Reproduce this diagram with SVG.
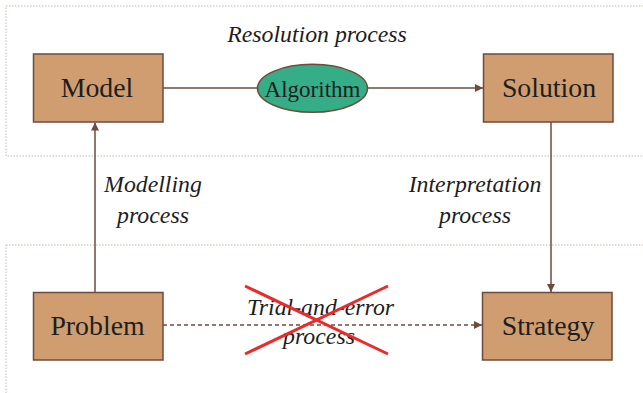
<svg xmlns="http://www.w3.org/2000/svg" width="643" height="393" viewBox="0 0 643 393">
<defs>
<style>
.region{fill:none;stroke:#c9b6ad;stroke-width:1;stroke-dasharray:1.5 1.5}
.box{fill:#cf9d6f;stroke:#6e4b3c;stroke-width:1.5}
.lbl{font-family:"Liberation Serif","Times New Roman",serif;font-size:27.8px;fill:#1e1e1e;text-anchor:middle}
.it{font-family:"Liberation Serif","Times New Roman",serif;font-size:23.8px;font-style:italic;fill:#1e1e1e;text-anchor:middle}
.con{fill:none;stroke:#6e4b3c;stroke-width:1.5}
.dash{stroke-dasharray:4 3}
.cross{stroke:#ec2a2a;stroke-width:3}
</style>
<marker id="ahl" viewBox="0 0 10 10" refX="10" refY="5" markerWidth="8" markerHeight="8" markerUnits="userSpaceOnUse" orient="auto">
<path d="M0,0 L10,5 L0,10 z" fill="#6e4b3c"/>
</marker>
</defs>
<rect width="643" height="393" fill="#ffffff"/>
<rect class="region" x="6" y="6" width="660" height="150"/>
<rect class="region" x="6" y="245" width="660" height="170"/>
<text class="it" x="317" y="42">Resolution process</text>
<g id="connectors">
<line class="con" x1="163" y1="88" x2="258" y2="88"/>
<line class="con" x1="367" y1="88" x2="483" y2="88" marker-end="url(#ahl)"/>
<line class="con" x1="95" y1="292" x2="95" y2="122.5" marker-end="url(#ahl)"/>
<line class="con" x1="551" y1="122" x2="551" y2="292" marker-end="url(#ahl)"/>
<line class="con dash" x1="163" y1="325" x2="482" y2="325" marker-end="url(#ahl)"/>
</g>
<g id="model"><rect class="box" x="33.5" y="54" width="129.5" height="68"/><text class="lbl" x="97" y="97">Model</text></g>
<g id="solution"><rect class="box" x="483.5" y="54" width="129.5" height="68"/><text class="lbl" x="549" y="97">Solution</text></g>
<g id="problem"><rect class="box" x="33.5" y="292.5" width="129.5" height="67.5"/><text class="lbl" x="97.5" y="335">Problem</text></g>
<g id="strategy"><rect class="box" x="482.5" y="292.5" width="129.5" height="67.5"/><text class="lbl" x="548" y="335">Strategy</text></g>
<g id="algorithm"><ellipse cx="312.5" cy="88.3" rx="55" ry="24" fill="#35ad87" stroke="#6e4b3c" stroke-width="1.5"/><text class="lbl" x="312.5" y="96.5" style="font-size:23px">Algorithm</text></g>
<g id="labels">
<text class="it" x="153" y="192">Modelling</text>
<text class="it" x="153" y="223">process</text>
<text class="it" x="475" y="192">Interpretation</text>
<text class="it" x="475" y="223">process</text>
<text class="it" x="320.5" y="315">Trial-and-error</text>
<text class="it" x="319" y="344">process</text>
</g>
<g id="cross">
<line class="cross" x1="245" y1="286" x2="388" y2="354"/>
<line class="cross" x1="388" y1="286" x2="245" y2="354"/>
</g>
</svg>
